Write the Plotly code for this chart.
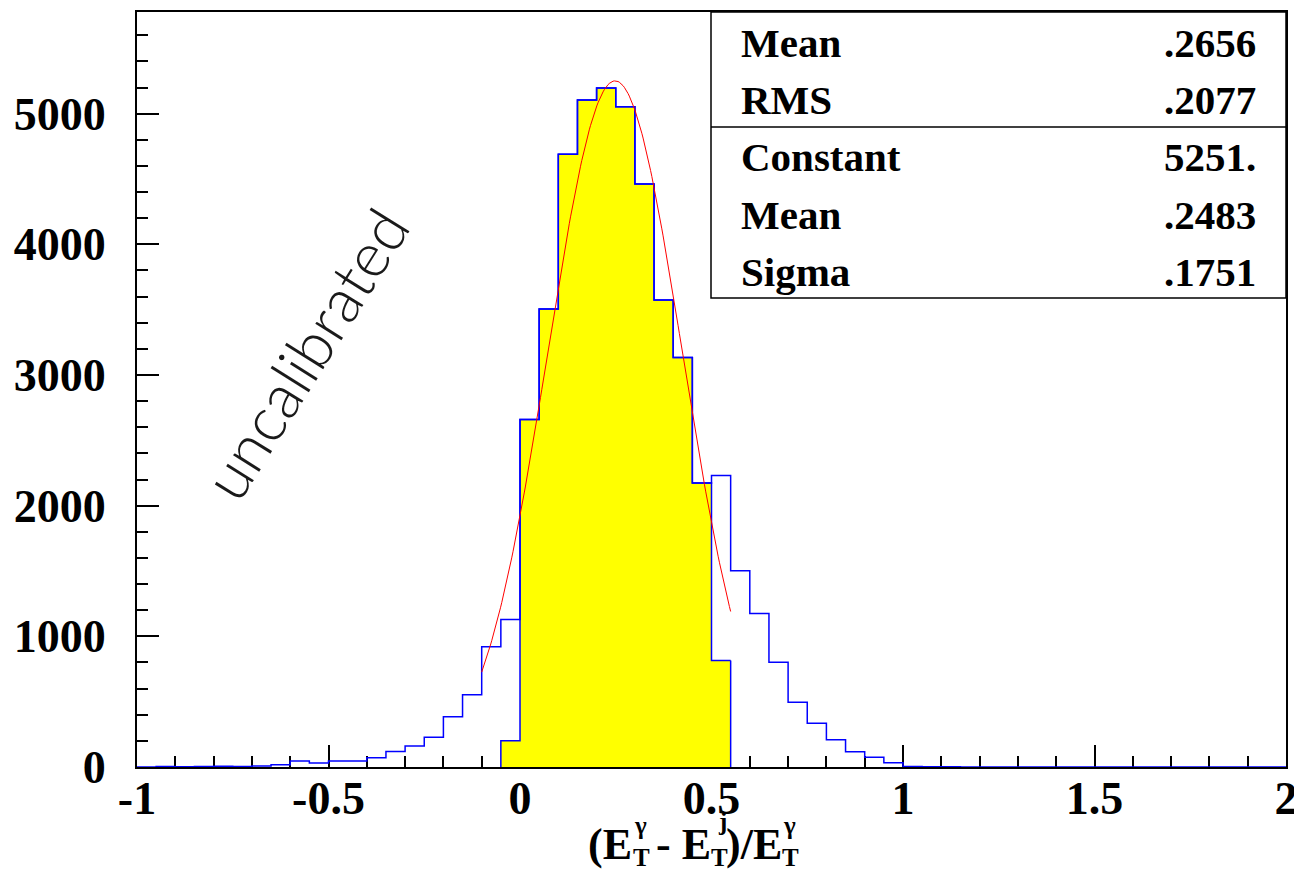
import numpy as np
import plotly.graph_objects as go

# ---------------- data ----------------
bin_lo = -1.0
bin_w = 0.05
# blue histogram (uncalibrated), 60 bins from -1 to 2
blue_counts = [0, 3, 2, 3, 5, 4, 8, 18, 45, 30,
               45, 45, 70, 118, 160, 228, 384, 552, 920, 1128,
               2659, 3506, 4689, 5105, 5197, 5053, 4462, 3574, 3133, 2174,
               2230, 1501, 1174, 802, 496, 335, 208, 116, 75, 32,
               4, 2, 1, 0, 0, 0, 0, 0, 0, 0,
               0, 0, 0, 0, 0, 0, 0, 0, 0, 0]
# yellow (fit region) histogram, bins from -0.05 to 0.55
yellow_lo = -0.05
yellow_counts = [200, 2659, 3506, 4689, 5105, 5197, 5053, 4462, 3574, 3133, 2174, 815]

# gaussian fit parameters (from stats box)
fit_const = 5251.0
fit_mean = 0.2483
fit_sigma = 0.1751
fit_range = [-0.1, 0.55]

stats_labels_top = ["Mean", "RMS"]
stats_values_top = [".2656", ".2077"]
stats_labels_fit = ["Constant", "Mean", "Sigma"]
stats_values_fit = ["5251.", ".2483", ".1751"]

x_ticks = [-1, -0.5, 0, 0.5, 1, 1.5, 2]
y_ticks = [0, 1000, 2000, 3000, 4000, 5000]

# ---------------- geometry helpers ----------------
# page body has an 8px default margin; compensate so the plot lands where the reference has it
OFF = 8
W, H = 1302 - OFF, 875 - OFF
PL, PR, PT, PB = 137, 1286, 12, 767


def px(x):
    return (x - PL) / (PR - PL)


def py(y):
    return (PB - y) / (PB - PT)


def step(lo, w, counts):
    xs = [lo + i * w for i in range(len(counts))] + [lo + len(counts) * w]
    ys = list(counts) + [counts[-1]]
    return xs, ys


fig = go.Figure()

yx, yy = step(yellow_lo, bin_w, yellow_counts)
fig.add_trace(go.Scatter(x=[yx[0]] + yx, y=[0] + yy, mode="lines",
                         line=dict(shape="hv", color="#0000ff", width=1.5),
                         fill="tozeroy", fillcolor="#ffff00", hoverinfo="skip"))
# close yellow right edge
fig.add_trace(go.Scatter(x=[yx[-1], yx[-1]], y=[yy[-1], 0], mode="lines",
                         line=dict(color="#0000ff", width=1.5), hoverinfo="skip"))

bx, by = step(bin_lo, bin_w, blue_counts)
fig.add_trace(go.Scatter(x=bx, y=by, mode="lines",
                         line=dict(shape="hv", color="#0000ff", width=1.5),
                         hoverinfo="skip"))

fx = np.linspace(fit_range[0], fit_range[1], 200)
fy = fit_const * np.exp(-0.5 * ((fx - fit_mean) / fit_sigma) ** 2)
fig.add_trace(go.Scatter(x=fx, y=fy, mode="lines",
                         line=dict(color="#ff0000", width=1), hoverinfo="skip"))

tickfont = dict(family="Liberation Serif", size=46, color="black", weight="bold")

fig.update_layout(
    width=W, height=H,
    margin=dict(l=PL - OFF, r=1302 - PR, t=PT - OFF, b=875 - PB, autoexpand=False),
    paper_bgcolor="white", plot_bgcolor="white",
    showlegend=False,
    xaxis=dict(range=[-1, 2], tickvals=x_ticks, ticktext=[str(v) for v in x_ticks],
               ticks="inside", ticklen=22, tickwidth=1.5, tickcolor="black",
               minor=dict(ticks="inside", ticklen=11, dtick=0.1, tick0=-1,
                          tickwidth=1.5, tickcolor="black", showgrid=False),
               showline=True, linecolor="black", linewidth=2, mirror=True,
               showgrid=False, zeroline=False, tickfont=tickfont,
               ticklabelstandoff=-10, layer="below traces", automargin=False),
    yaxis=dict(range=[0, 5778], tickvals=y_ticks, ticktext=[str(v) for v in y_ticks],
               ticks="inside", ticklen=22, tickwidth=1.5, tickcolor="black",
               minor=dict(ticks="inside", ticklen=11, dtick=200, tick0=0,
                          tickwidth=1.5, tickcolor="black", showgrid=False),
               showline=True, linecolor="black", linewidth=2, mirror=True,
               showgrid=False, zeroline=False, tickfont=tickfont,
               ticklabelstandoff=20, automargin=False),
)

# stats box
fig.add_shape(type="rect", xref="paper", yref="paper",
              x0=px(711), x1=px(1286), y0=py(298), y1=py(12),
              line=dict(color="black", width=1.5), fillcolor="white", layer="above")
fig.add_shape(type="line", xref="paper", yref="paper",
              x0=px(711), x1=px(1286), y0=py(127), y1=py(127),
              line=dict(color="black", width=1.5), layer="above")

sfont = dict(family="Liberation Serif", size=41, color="black", weight="bold")
rows_y_top = [43, 100]
rows_y_fit = [157, 215, 272]
for lab, val, yy_ in zip(stats_labels_top + stats_labels_fit,
                         stats_values_top + stats_values_fit,
                         rows_y_top + rows_y_fit):
    fig.add_annotation(text=lab, xref="paper", yref="paper", x=px(739), y=py(yy_),
                       xanchor="left", yanchor="middle", showarrow=False, font=sfont)
    fig.add_annotation(text=val, xref="paper", yref="paper", x=px(1258), y=py(yy_),
                       xanchor="right", yanchor="middle", showarrow=False, font=sfont)

# rotated label
fig.add_annotation(text="uncalibrated", xref="paper", yref="paper",
                   x=px(305), y=py(353), xanchor="center", yanchor="middle",
                   textangle=-58, showarrow=False,
                   font=dict(family="Lato", size=62, color="#1a1a1a", weight=300))

# x-axis title built from pieces (stacked super/subscripts)
tf = dict(family="Liberation Serif", size=44, color="black", weight="bold")
sf = dict(family="Liberation Serif", size=25, color="black", weight="bold")
pieces = [
    ("(E", 633, 844, "right", tf),
    ("γ", 633, 826, "left", sf),
    ("T", 632, 857, "left", sf),
    ("- E", 712, 844, "right", tf),
    ("j", 717, 821, "left", sf),
    ("T", 710, 857, "left", sf),
    (")/E", 783, 844, "right", tf),
    ("γ", 782, 826, "left", sf),
    ("T", 781, 857, "left", sf),
]
for t, x_, y_, anc, f in pieces:
    fig.add_annotation(text=t, xref="paper", yref="paper", x=px(x_), y=py(y_),
                       xanchor=anc, yanchor="middle", showarrow=False, font=f,
                       borderpad=0)

fig.write_html("out.html")
